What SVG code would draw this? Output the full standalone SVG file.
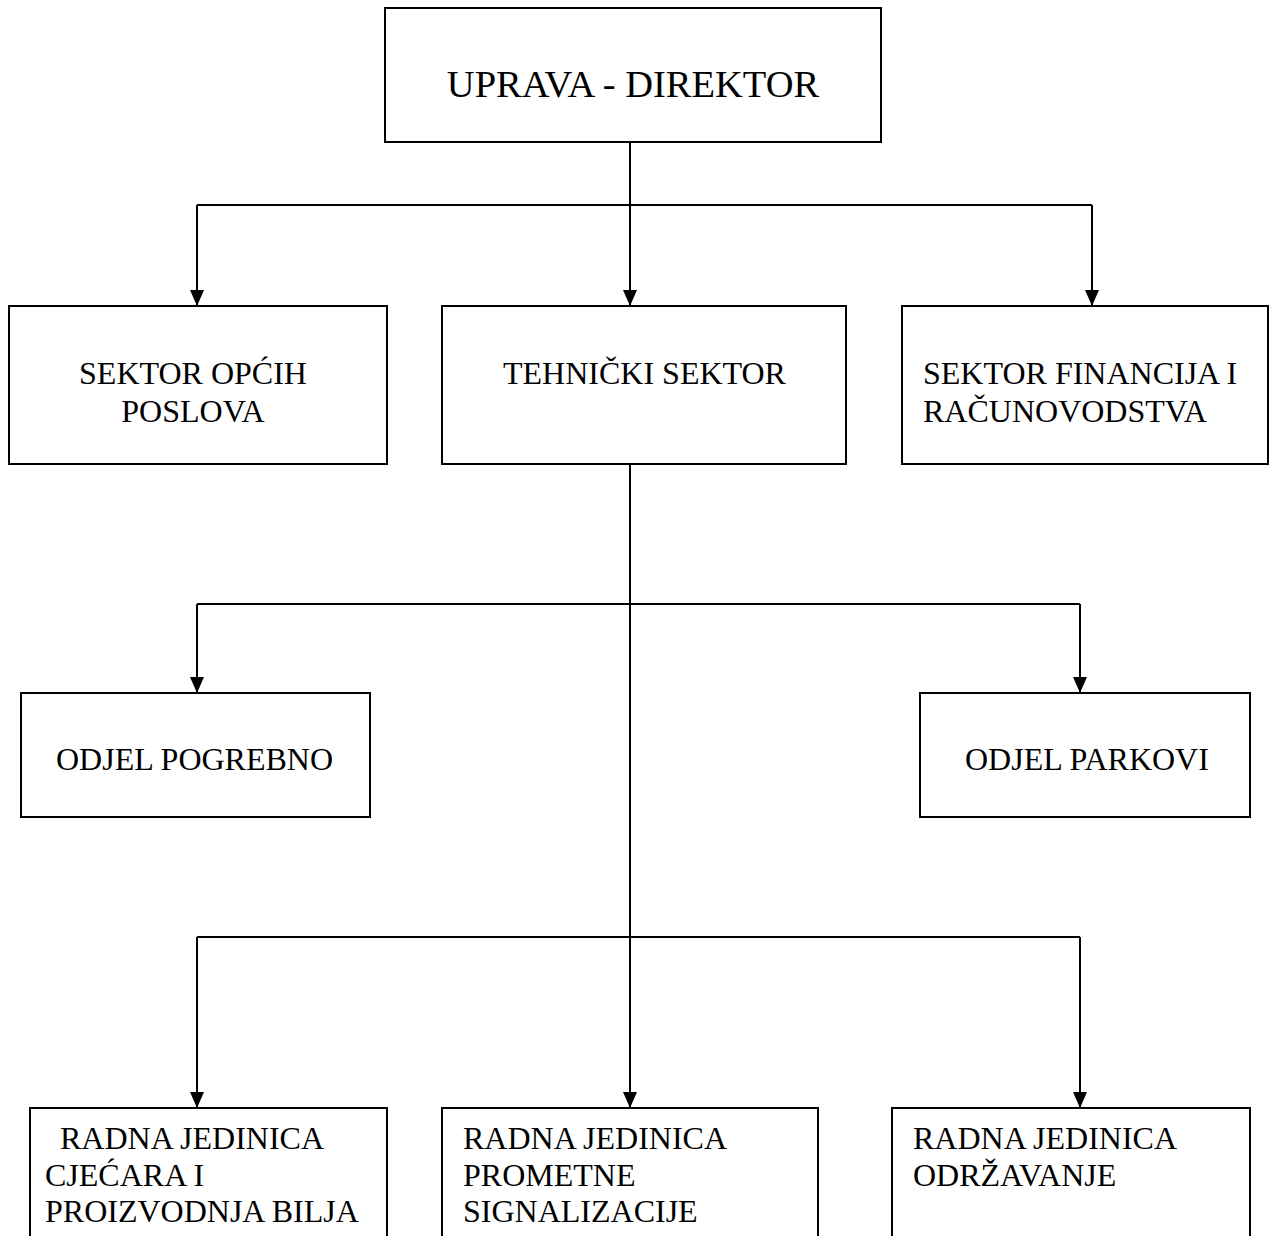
<svg xmlns="http://www.w3.org/2000/svg" width="1269" height="1236" viewBox="0 0 1269 1236">
<style>
.box{fill:#fff;stroke:#000;stroke-width:2}
.t{font-family:"Liberation Serif","Times New Roman",serif;font-size:32px;fill:#000}
.ln{fill:none;stroke:#000;stroke-width:2}
</style>
<defs>
<marker id="ah" markerUnits="userSpaceOnUse" markerWidth="16" markerHeight="16" viewBox="0 0 16 16" refX="16" refY="8" orient="auto">
<path d="M0,1 L16,8 L0,15 Z" fill="#000"/>
</marker>
</defs>
<rect width="1269" height="1236" fill="#fff"/>
<g id="connectors">
<path class="ln" d="M630,143 V205"/>
<path class="ln" d="M197,205 H1092"/>
<path class="ln" d="M197,205 V306" marker-end="url(#ah)"/>
<path class="ln" d="M630,205 V306" marker-end="url(#ah)"/>
<path class="ln" d="M1092,205 V306" marker-end="url(#ah)"/>
<path class="ln" d="M630,464 V1108" marker-end="url(#ah)"/>
<path class="ln" d="M197,604 H1080"/>
<path class="ln" d="M197,604 V693" marker-end="url(#ah)"/>
<path class="ln" d="M1080,604 V693" marker-end="url(#ah)"/>
<path class="ln" d="M197,937 H1080"/>
<path class="ln" d="M197,937 V1108" marker-end="url(#ah)"/>
<path class="ln" d="M1080,937 V1108" marker-end="url(#ah)"/>
</g>
<g id="uprava">
<rect class="box" x="385" y="8" width="496" height="134"/>
<text class="t" x="633" y="97" text-anchor="middle" style="font-size:38.5px">UPRAVA - DIREKTOR</text>
</g>
<g id="sektor-opcih">
<rect class="box" x="9" y="306" width="378" height="158"/>
<text class="t" x="193" y="384" text-anchor="middle">SEKTOR OPĆIH</text>
<text class="t" x="193" y="422" text-anchor="middle">POSLOVA</text>
</g>
<g id="tehnicki">
<rect class="box" x="442" y="306" width="404" height="158"/>
<text class="t" x="503" y="384">TEHNIČKI SEKTOR</text>
</g>
<g id="sektor-financija">
<rect class="box" x="902" y="306" width="366" height="158"/>
<text class="t" x="923" y="384">SEKTOR FINANCIJA I</text>
<text class="t" x="923" y="422">RAČUNOVODSTVA</text>
</g>
<g id="odjel-pogrebno">
<rect class="box" x="21" y="693" width="349" height="124"/>
<text class="t" x="56" y="770">ODJEL POGREBNO</text>
</g>
<g id="odjel-parkovi">
<rect class="box" x="920" y="693" width="330" height="124"/>
<text class="t" x="965" y="770">ODJEL PARKOVI</text>
</g>
<g id="rj-cjecara">
<rect class="box" x="30" y="1108" width="357" height="150"/>
<text class="t" x="60" y="1149">RADNA JEDINICA</text>
<text class="t" x="45" y="1186">CJEĆARA I</text>
<text class="t" x="45" y="1222">PROIZVODNJA BILJA</text>
</g>
<g id="rj-prometne">
<rect class="box" x="442" y="1108" width="376" height="150"/>
<text class="t" x="463" y="1149">RADNA JEDINICA</text>
<text class="t" x="463" y="1186">PROMETNE</text>
<text class="t" x="463" y="1222">SIGNALIZACIJE</text>
</g>
<g id="rj-odrzavanje">
<rect class="box" x="892" y="1108" width="358" height="150"/>
<text class="t" x="913" y="1149">RADNA JEDINICA</text>
<text class="t" x="913" y="1186">ODRŽAVANJE</text>
</g>
</svg>
